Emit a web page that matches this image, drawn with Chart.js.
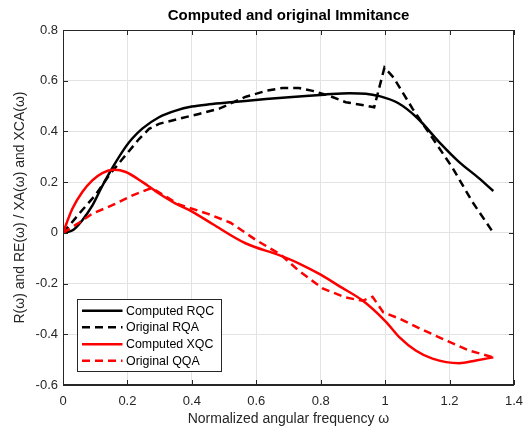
<!DOCTYPE html>
<html>
<head>
<meta charset="utf-8">
<script src="https://cdn.jsdelivr.net/npm/chart.js@4"></script>
<style>
  html, body { margin: 0; padding: 0; background: #ffffff; }
  #wrap { width: 532px; height: 431px; }
</style>
</head>
<body>
<div id="wrap"><canvas id="c" width="532" height="431"></canvas></div>
<script>
// ---- data ----
const chartTitle = 'Computed and original Immitance';
const xTitle = 'Normalized angular frequency ω';
const yTitle = 'R(ω) and RE(ω) / XA(ω) and XCA(ω)';

const xTicks = [0, 0.2, 0.4, 0.6, 0.8, 1.0, 1.2, 1.4];
const yTicks = [-0.6, -0.4, -0.2, 0, 0.2, 0.4, 0.6, 0.8];

const seriesLabels = ['Computed RQC', 'Original RQA', 'Computed XQC', 'Original QQA'];

// Computed RQC (black solid)
const rqcX = [0, 0.03, 0.06, 0.09, 0.12, 0.155, 0.195, 0.215, 0.247, 0.298, 0.35, 0.40, 0.454, 0.53, 0.63, 0.733, 0.81, 0.89, 0.94, 0.98, 1.04, 1.10, 1.17, 1.23, 1.29, 1.336];
const rqcY = [0, 0.01, 0.05, 0.105, 0.18, 0.26, 0.34, 0.372, 0.412, 0.456, 0.482, 0.498, 0.507, 0.516, 0.528, 0.538, 0.545, 0.551, 0.549, 0.54, 0.512, 0.453, 0.355, 0.279, 0.217, 0.165];

// Original RQA (black dashed)
const rqaX = [0, 0.06, 0.10, 0.143, 0.185, 0.236, 0.267, 0.298, 0.36, 0.422, 0.485, 0.568, 0.63, 0.68, 0.733, 0.775, 0.826, 0.878, 0.94, 0.966, 0.998, 1.026, 1.085, 1.147, 1.209, 1.271, 1.336];
const rqaY = [0, 0.09, 0.148, 0.227, 0.292, 0.37, 0.41, 0.43, 0.45, 0.469, 0.49, 0.537, 0.56, 0.571, 0.571, 0.56, 0.541, 0.515, 0.502, 0.495, 0.652, 0.613, 0.49, 0.374, 0.257, 0.122, 0.0];

// Computed XQC (red solid)
const xqcX = [0, 0.029, 0.06, 0.091, 0.122, 0.159, 0.195, 0.247, 0.298, 0.35, 0.402, 0.464, 0.568, 0.671, 0.733, 0.80, 0.86, 0.93, 1.002, 1.044, 1.095, 1.147, 1.23, 1.282, 1.336];
const xqcY = [0, 0.095, 0.161, 0.207, 0.236, 0.249, 0.24, 0.2, 0.155, 0.115, 0.083, 0.035, -0.042, -0.088, -0.121, -0.165, -0.212, -0.267, -0.350, -0.411, -0.464, -0.496, -0.514, -0.503, -0.491];

// Original QQA (red dashed)
const qqaX = [0, 0.05, 0.091, 0.153, 0.216, 0.275, 0.36, 0.45, 0.52, 0.6, 0.675, 0.728, 0.806, 0.878, 0.93, 0.961, 0.994, 1.046, 1.116, 1.189, 1.261, 1.336];
const qqaY = [0, 0.04, 0.076, 0.109, 0.148, 0.177, 0.112, 0.075, 0.04, -0.029, -0.085, -0.145, -0.219, -0.255, -0.268, -0.252, -0.313, -0.339, -0.382, -0.424, -0.464, -0.491];

// ---- build chart ----
const pts = (xs, ys) => xs.map((x, i) => ({ x: x, y: ys[i] }));
const FONT = "'Liberation Sans', Arial, Helvetica, sans-serif";
const AXC = '#262626';

const boxPlugin = {
  id: 'boxPlugin',
  afterDraw(chart) {
    const ctx = chart.ctx;
    const a = chart.chartArea;
    const xs = chart.scales.x, ys = chart.scales.y;
    ctx.save();
    // frame
    ctx.strokeStyle = AXC;
    ctx.lineWidth = 1;
    ctx.setLineDash([]);
    ctx.strokeRect(Math.round(a.left) + 0.5, Math.round(a.top) + 0.5, Math.round(a.right - a.left) - 1, Math.round(a.bottom - a.top) - 1);
    // inner tick marks
    const tl = 5;
    ctx.beginPath();
    xTicks.forEach(v => {
      const px = Math.round(xs.getPixelForValue(v)) + 0.5;
      ctx.moveTo(px, a.bottom); ctx.lineTo(px, a.bottom - tl);
      ctx.moveTo(px, a.top); ctx.lineTo(px, a.top + tl);
    });
    yTicks.forEach(v => {
      const py = Math.round(ys.getPixelForValue(v)) + 0.5;
      ctx.moveTo(a.left, py); ctx.lineTo(a.left + tl, py);
      ctx.moveTo(a.right, py); ctx.lineTo(a.right - tl, py);
    });
    ctx.stroke();

    // title
    ctx.fillStyle = '#000000';
    ctx.font = "bold 15px " + FONT;
    ctx.textAlign = 'center';
    ctx.textBaseline = 'alphabetic';
    ctx.fillText(chartTitle, (a.left + a.right) / 2, 19.5);

    // legend
    const lx = a.left + 14, ly = a.bottom - 86, lw = 144, lh = 72;
    ctx.fillStyle = '#ffffff';
    ctx.fillRect(lx, ly, lw, lh);
    ctx.strokeStyle = AXC;
    ctx.lineWidth = 1;
    ctx.strokeRect(Math.round(lx) + 0.5, Math.round(ly) + 0.5, lw, lh);
    const rows = [11.7, 28.3, 45.3, 61.7];
    chart.data.datasets.forEach((ds, i) => {
      const yy = ly + rows[i];
      ctx.strokeStyle = ds.borderColor;
      ctx.lineWidth = ds.borderWidth;
      ctx.setLineDash(ds.borderDash || []);
      ctx.beginPath();
      ctx.moveTo(lx + 5, yy);
      ctx.lineTo(lx + 45.5, yy);
      ctx.stroke();
      ctx.setLineDash([]);
      ctx.fillStyle = '#000000';
      ctx.font = "12.4px " + FONT;
      ctx.textAlign = 'left';
      ctx.textBaseline = 'middle';
      ctx.fillText(ds.label, lx + 49, yy + 0.5);
    });
    ctx.restore();
  }
};

new Chart(document.getElementById('c'), {
  type: 'line',
  data: {
    datasets: [
      { label: seriesLabels[0], data: pts(rqcX, rqcY), borderColor: '#000000', borderWidth: 2.5, cubicInterpolationMode: 'monotone', pointRadius: 0, order: 4 },
      { label: seriesLabels[1], data: pts(rqaX, rqaY), borderColor: '#000000', borderWidth: 2.5, borderDash: [8, 5], tension: 0, pointRadius: 0, order: 3 },
      { label: seriesLabels[2], data: pts(xqcX, xqcY), borderColor: '#ff0000', borderWidth: 2.5, cubicInterpolationMode: 'monotone', pointRadius: 0, order: 2 },
      { label: seriesLabels[3], data: pts(qqaX, qqaY), borderColor: '#ff0000', borderWidth: 2.5, borderDash: [8, 5], tension: 0, pointRadius: 0, order: 1 }
    ]
  },
  options: {
    responsive: false,
    animation: false,
    devicePixelRatio: 1,
    layout: { padding: { top: 30, right: 16, bottom: 0, left: 0 } },
    plugins: { legend: { display: false }, title: { display: false }, tooltip: { enabled: false } },
    scales: {
      x: {
        type: 'linear', min: 0, max: 1.4,
        afterBuildTicks: s => { s.ticks = xTicks.map(v => ({ value: v })); },
        afterFit: s => { s.height = 46; },
        ticks: { callback: v => String(Math.round(v * 10) / 10), font: { family: FONT, size: 13 }, color: AXC, padding: 9, maxRotation: 0, autoSkip: false },
        grid: { color: '#e3e3e3', drawTicks: false },
        border: { color: AXC },
        title: { display: true, text: xTitle, font: { family: FONT, size: 14 }, color: AXC, padding: { top: 0, bottom: 3 } }
      },
      y: {
        type: 'linear', min: -0.6, max: 0.8,
        afterBuildTicks: s => { s.ticks = yTicks.map(v => ({ value: v })); },
        afterFit: s => { s.width = 63; },
        ticks: { callback: v => String(Math.round(v * 10) / 10), font: { family: FONT, size: 13 }, color: AXC, padding: 5, autoSkip: false },
        grid: { color: '#e3e3e3', drawTicks: false },
        border: { color: AXC },
        title: { display: true, text: yTitle, font: { family: FONT, size: 14 }, color: AXC, padding: { top: 12, bottom: 0 } }
      }
    }
  },
  plugins: [boxPlugin]
});
</script>
</body>
</html>
